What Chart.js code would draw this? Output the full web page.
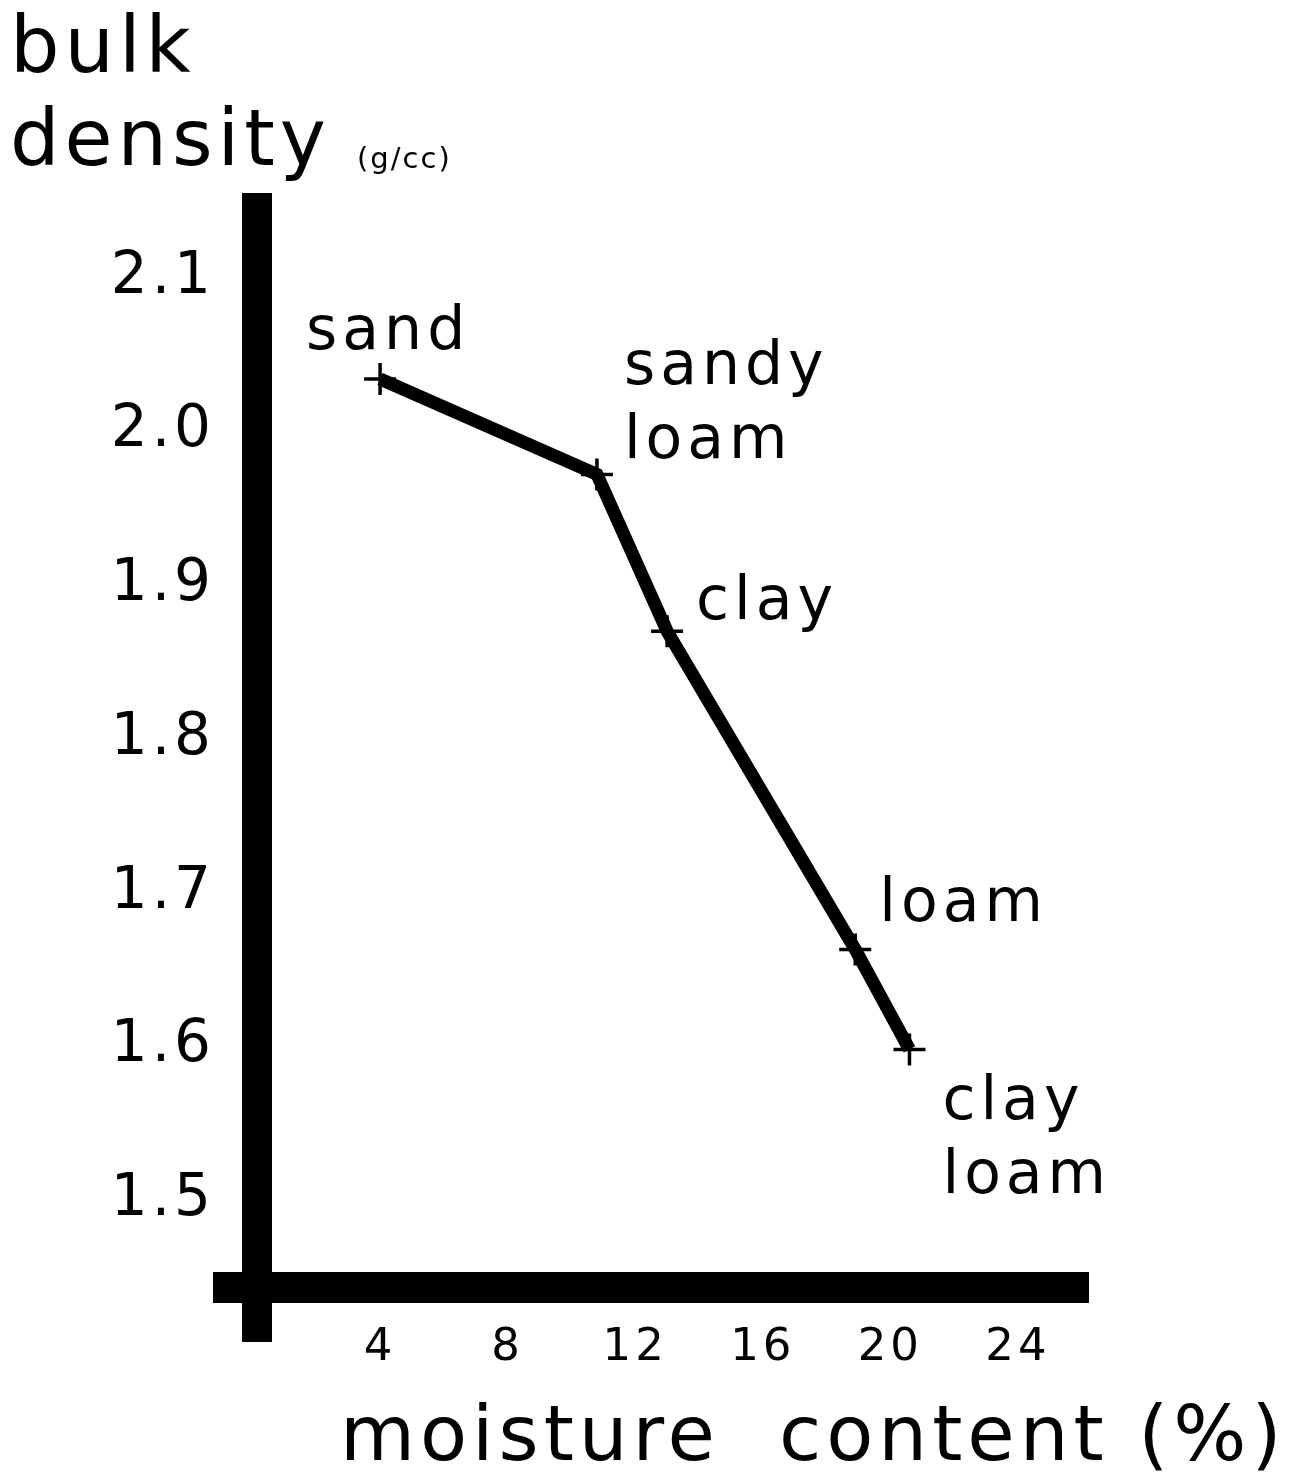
<!DOCTYPE html>
<html>
<head>
<meta charset="utf-8">
<script src="https://cdn.jsdelivr.net/npm/chart.js@4/dist/chart.umd.min.js"></script>
<style>
  html, body { margin: 0; padding: 0; background: #fff; }
  canvas { display: block; }
</style>
</head>
<body>
<canvas id="densityChart" width="1296" height="1474"></canvas>
<script>
// soil types with moisture content (%) and bulk density (g/cc)
const soils = ['sand', 'sandy loam', 'clay', 'loam', 'clay loam'];
const moisture = [4.0, 10.8, 13.0, 18.9, 20.6];
const density = [2.034, 1.972, 1.870, 1.663, 1.598];
const xTicks = [4, 8, 12, 16, 20, 24];
const yTicks = [1.5, 1.6, 1.7, 1.8, 1.9, 2.0, 2.1];

// where each soil label sits relative to its point (px)
const labelOffsets = [[-74, -30], [27, -90], [29, -12], [24, -28], [33, 70]];

const FONT = '"DejaVu Sans", sans-serif';

const textPlugin = {
    id: 'texts',
    beforeDraw(chart) {
        chart.ctx.letterSpacing = '4px';
    },
    afterDraw(chart) {
        const ctx = chart.ctx;
        const area = chart.chartArea;
        ctx.save();
        ctx.fillStyle = '#000';

        // thick axis bars (y bar runs past the x bar, x bar runs past the y bar)
        ctx.fillRect(area.left - 15, area.top, 30, area.bottom - area.top + 55);
        ctx.fillRect(area.left - 44, area.bottom - 15, area.right - area.left + 44, 31);

        // soil labels next to points
        ctx.letterSpacing = '5px';
        ctx.font = '60px ' + FONT;
        ctx.textAlign = 'left';
        ctx.textBaseline = 'alphabetic';
        const meta = chart.getDatasetMeta(0);
        soils.forEach((name, i) => {
            const pt = meta.data[i];
            const lines = name.split(' ');
            lines.forEach((ln, j) => {
                ctx.fillText(ln, pt.x + labelOffsets[i][0], pt.y + labelOffsets[i][1] + j * 74);
            });
        });

        // axis titles
        ctx.letterSpacing = '5px';
        ctx.font = '78px ' + FONT;
        ctx.fillText('bulk', 10, 72);
        ctx.fillText('density', 10, 165);
        ctx.letterSpacing = '2px';
        ctx.font = '29px ' + FONT;
        ctx.fillText('(g/cc)', 357, 168);
        ctx.letterSpacing = '5px';
        ctx.font = '77px ' + FONT;
        ctx.fillText('moisture  content (%)', 340, 1460);
        ctx.restore();
    }
};

const ctx = document.getElementById('densityChart').getContext('2d');

new Chart(ctx, {
    type: 'line',
    data: {
        datasets: [{
            data: moisture.map((m, i) => ({x: m, y: density[i]})),
            borderColor: '#000',
            borderWidth: 13,
            borderJoinStyle: 'miter',
            pointStyle: 'cross',
            pointRadius: 16,
            pointBorderWidth: 3.5,
            pointBorderColor: '#000',
            pointBackgroundColor: '#000',
            tension: 0
        }]
    },
    options: {
        responsive: false,
        animation: false,
        devicePixelRatio: 1,
        layout: {
            padding: {left: 0, top: 193, right: 207, bottom: 107}
        },
        plugins: {
            legend: {display: false},
            tooltip: {enabled: false}
        },
        scales: {
            x: {
                type: 'linear',
                min: 0.14,
                max: 26.23,
                afterBuildTicks: (scale) => { scale.ticks = xTicks.map(v => ({value: v})); },
                afterFit: (scale) => { scale.height = 80; },
                grid: {display: false, drawTicks: false},
                border: {display: false},
                ticks: {
                    color: '#000',
                    padding: 34,
                    maxRotation: 0,
                    autoSkip: false,
                    font: {family: FONT, size: 45}
                }
            },
            y: {
                type: 'linear',
                min: 1.4435,
                max: 2.155,
                afterBuildTicks: (scale) => { scale.ticks = yTicks.map(v => ({value: v})); },
                afterFit: (scale) => { scale.width = 257; },
                grid: {display: false, drawTicks: false},
                border: {display: false},
                ticks: {
                    color: '#000',
                    padding: 42,
                    autoSkip: false,
                    font: {family: FONT, size: 58},
                    callback: (v) => v.toFixed(1)
                }
            }
        }
    },
    plugins: [textPlugin]
});
</script>
</body>
</html>
